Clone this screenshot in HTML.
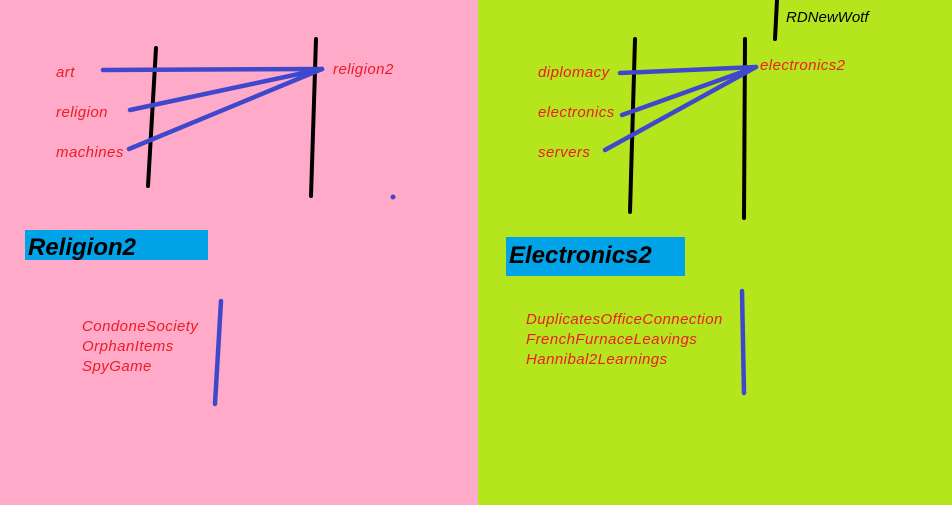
<!DOCTYPE html>
<html><head><meta charset="utf-8"><style>
html,body{margin:0;padding:0;width:952px;height:505px;overflow:hidden}
svg{display:block}
.r{fill:#ED1C24;font-family:"Liberation Sans",sans-serif;font-style:italic;font-size:15px;letter-spacing:0.45px}
.b{stroke:#3F48CC;stroke-width:4.5;stroke-linecap:round;fill:none}
.k{stroke:#000;stroke-width:4;stroke-linecap:round;fill:none}
.t{font-family:"Liberation Sans",sans-serif;font-style:italic;font-weight:bold;font-size:24px;fill:#000}
</style></head><body>
<svg width="952" height="505">
<rect x="0" y="0" width="478" height="505" fill="#FFAAC9"/>
<rect x="478" y="0" width="474" height="505" fill="#B5E61D"/>
<g>
<line class="k" x1="156" y1="48" x2="148" y2="186"/>
<line class="k" x1="316" y1="39" x2="311" y2="196"/>
<line class="b" x1="103" y1="70" x2="322" y2="69"/>
<line class="b" x1="130" y1="110" x2="322" y2="69"/>
<line class="b" x1="129" y1="149" x2="322" y2="69"/>
<circle cx="393" cy="197" r="2.5" fill="#3F48CC"/>
<text class="r" x="56" y="77">art</text>
<text class="r" x="56" y="117">religion</text>
<text class="r" x="56" y="157">machines</text>
<text class="r" x="333" y="74">religion2</text>
</g>
<rect x="25" y="230" width="183" height="30" fill="#00A2E8"/>
<text class="t" x="28" y="255">Religion2</text>
<text class="r" x="82" y="331">CondoneSociety</text>
<text class="r" x="82" y="351">OrphanItems</text>
<text class="r" x="82" y="371">SpyGame</text>
<line class="b" x1="221" y1="301" x2="215" y2="404"/>
<g>
<line class="k" x1="635" y1="39" x2="630" y2="212"/>
<line class="k" x1="745" y1="39" x2="744" y2="218"/>
<line class="k" x1="777" y1="0" x2="775" y2="39"/>
<line class="b" x1="620" y1="73" x2="756" y2="67"/>
<line class="b" x1="622" y1="115" x2="756" y2="67"/>
<line class="b" x1="605" y1="150" x2="756" y2="67"/>
<text class="r" x="538" y="77">diplomacy</text>
<text class="r" x="538" y="117">electronics</text>
<text class="r" x="538" y="157">servers</text>
<text class="r" x="760" y="70">electronics2</text>
<text x="786" y="22" style="font-family:'Liberation Sans',sans-serif;font-style:italic;font-size:15px" fill="#000">RDNewWotf</text>
</g>
<rect x="506" y="237" width="179" height="39" fill="#00A2E8"/>
<text class="t" x="509" y="263">Electronics2</text>
<text class="r" x="526" y="324">DuplicatesOfficeConnection</text>
<text class="r" x="526" y="344">FrenchFurnaceLeavings</text>
<text class="r" x="526" y="364">Hannibal2Learnings</text>
<line class="b" x1="742" y1="291" x2="744" y2="393"/>
</svg>
</body></html>
